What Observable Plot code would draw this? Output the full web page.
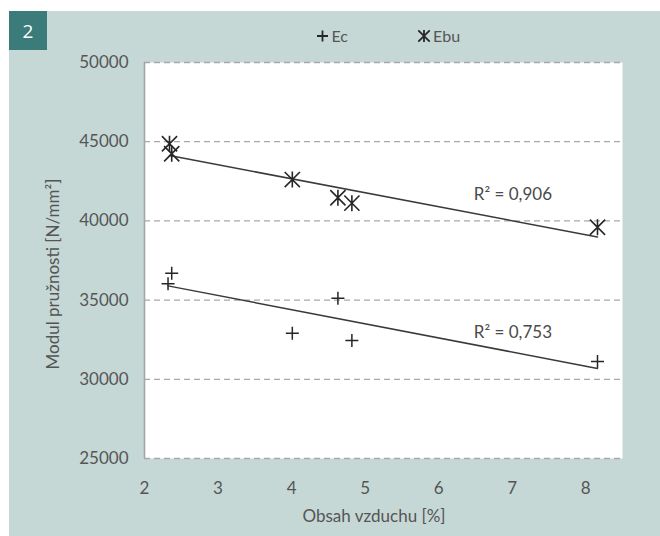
<!DOCTYPE html>
<html>
<head>
<meta charset="utf-8">
<script src="https://cdn.jsdelivr.net/npm/d3@7"></script>
<script src="https://cdn.jsdelivr.net/npm/@observablehq/plot@0.6"></script>
<style>
  body { margin: 0; background: #ffffff; }
  #wrap { position: relative; width: 660px; height: 536px; overflow: hidden; font-family: Lato, "Open Sans", sans-serif; color: #555555; }
  #panel { position: absolute; left: 9px; top: 11px; width: 651px; height: 525px; background: #c5d8d6; }
  #badge { position: absolute; left: 9px; top: 11px; width: 38px; height: 39px; background: #3b7b79; color: #ffffff;
           font: 19px "Open Sans", sans-serif; display: flex; align-items: center; justify-content: center; }
  #chart { position: absolute; left: 0; top: 0; }
  #legend { position: absolute; left: 0; top: 0; }
  .ytitle { position: absolute; left: 52px; top: 274px; transform: translate(-50%, -50%) rotate(-90deg);
            white-space: nowrap; font-size: 17px; }
  .xtitle { position: absolute; left: 374px; top: 515px; transform: translate(-50%, -50%);
            white-space: nowrap; font-size: 17px; }
</style>
</head>
<body>
<div id="wrap">
  <div id="panel"></div>
  <div id="badge">2</div>
  <div id="chart"></div>
  <div class="ytitle">Modul pružnosti [N/mm²]</div>
  <div class="xtitle">Obsah vzduchu [%]</div>
  <svg id="legend" width="660" height="60"></svg>
</div>
<script>
// ---- data ----
const seriesNames = ["Ec", "Ebu"];
const xTicks = [2, 3, 4, 5, 6, 7, 8];
const yTicks = [25000, 30000, 35000, 40000, 45000, 50000];

const ecX  = [2.37, 2.32, 4.01, 4.63, 4.82, 8.16];
const ecY  = [36700, 36030, 32910, 35120, 32450, 31120];

const ebuX = [2.34, 2.37, 4.01, 4.63, 4.82, 8.16];
const ebuY = [44870, 44240, 42610, 41460, 41120, 39600];

const r2Text = ["R² = 0,906", "R² = 0,753"];
const r2X = [7.01, 7.01];
const r2Y = [41650, 32970];

// ---- build tables ----
const ec  = ecX.map((x, i) => ({x, y: ecY[i]}));
const ebu = ebuX.map((x, i) => ({x, y: ebuY[i]}));
const r2 = r2Text.map((t, i) => ({t, x: r2X[i], y: r2Y[i]}));

// Excel-like marker symbols
const plusSym = {
  draw(ctx, size) {
    const r = Math.sqrt(size / Math.PI);
    ctx.moveTo(-r, 0); ctx.lineTo(r, 0);
    ctx.moveTo(0, -r); ctx.lineTo(0, r);
  }
};
const starSym = {
  draw(ctx, size) {
    const r = Math.sqrt(size / Math.PI);
    const d = r * 0.95;
    ctx.moveTo(0, -r); ctx.lineTo(0, r);
    ctx.moveTo(-d, -d); ctx.lineTo(d, d);
    ctx.moveTo(-d, d); ctx.lineTo(d, -d);
  }
};

const chart = Plot.plot({
  width: 660,
  height: 536,
  marginLeft: 144,
  marginRight: 38,
  marginTop: 62,
  marginBottom: 78,
  style: { background: "transparent", fontFamily: "Lato, 'Open Sans', sans-serif", fontSize: "17px", color: "#555555", overflow: "visible" },
  x: { domain: [2, 8.5], ticks: xTicks, tickSize: 0, tickPadding: 23, label: null, tickFormat: d => String(d) },
  y: { domain: [25000, 50000], ticks: yTicks, tickSize: 0, tickPadding: 16, label: null, tickFormat: d => String(d) },
  marks: [
    Plot.frame({ fill: "#ffffff", stroke: "none" }),
    Plot.ruleY(yTicks, { stroke: "#a8a8a8", strokeDasharray: "6,4", strokeWidth: 1.3 }),
    Plot.ruleX([2], { stroke: "#9ea6a8", strokeWidth: 1.6 }),
    Plot.linearRegressionY(ebu, { x: "x", y: "y", ci: 0, stroke: "#3a3a3a", strokeWidth: 1.5 }),
    Plot.linearRegressionY(ec,  { x: "x", y: "y", ci: 0, stroke: "#3a3a3a", strokeWidth: 1.5 }),
    Plot.dot(ebu, { x: "x", y: "y", symbol: starSym, r: 8, fill: "none", stroke: "#262626", strokeWidth: 1.6 }),
    Plot.dot(ec,  { x: "x", y: "y", symbol: plusSym, r: 6.5, fill: "none", stroke: "#262626", strokeWidth: 1.5 }),
    Plot.text(r2, { x: "x", y: "y", text: "t", fill: "#4a4a4a", fontSize: 17 })
  ]
});
document.getElementById("chart").appendChild(chart);

// ---- legend ----
const leg = d3.select("#legend");
const legItems = [
  { name: seriesNames[0], sym: plusSym, sx: 322.5, r: 5.5 },
  { name: seriesNames[1], sym: starSym, sx: 424, r: 6 }
];
legItems.forEach(it => {
  const p = d3.path();
  it.sym.draw(p, Math.PI * it.r * it.r);
  leg.append("path").attr("d", p.toString())
    .attr("transform", `translate(${it.sx},36)`)
    .attr("fill", "none").attr("stroke", "#262626").attr("stroke-width", 1.8);
  leg.append("text").attr("x", it.sx + 9).attr("y", 36).attr("dy", "0.35em")
    .attr("font-family", "Lato, 'Open Sans', sans-serif").attr("font-size", 16)
    .attr("fill", "#555555").text(it.name);
});
</script>
</body>
</html>
